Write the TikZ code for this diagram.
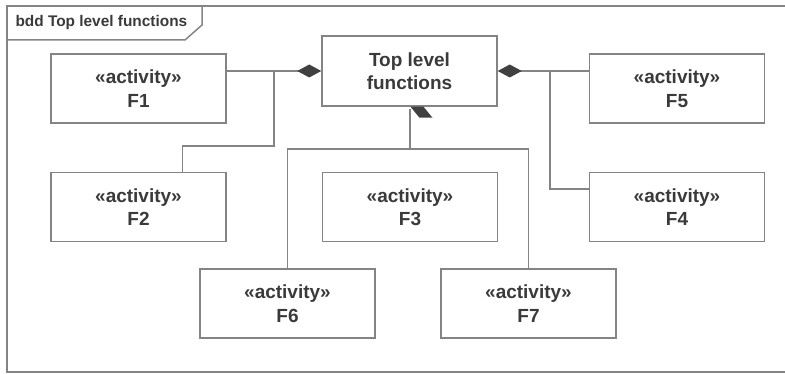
\documentclass[tikz,border=0pt]{standalone}
\usepackage{fontspec}
\setmainfont{Liberation Sans}
\usetikzlibrary{calc, arrows.meta, positioning}

\definecolor{linegray}{RGB}{132,132,132}
\definecolor{textgray}{RGB}{58,58,58}
\definecolor{diagray}{RGB}{64,64,64}

\begin{document}
\begin{tikzpicture}[x=1pt, y=-1pt,
    block/.style={draw=linegray, line width=1.5pt, fill=white, text=textgray,
        minimum width=175pt, minimum height=69pt, align=center,
        font=\fontsize{19}{23.5}\selectfont\bfseries},
    link/.style={draw=linegray, line width=1.5pt},
    comp/.style={link, -{Diamond[length=24pt, width=13pt, color=diagray, fill=diagray]}}]

    % =================================================================
    % 1. KHUNG SO DO VA NHAN bdd
    % =================================================================
    \useasboundingbox (0,0) rectangle (785,374);
    \draw[linegray, line width=1.5pt] (790,6) -- (7,6) -- (7,372) -- (790,372);
    \draw[linegray, line width=1.5pt] (7,40) -- (185,40) -- (202,25) -- (202,6);
    \node[anchor=west, text=textgray, font=\fontsize{15.4}{18}\selectfont\bfseries]
        (tab) at (12,23) {bdd Top level functions};

    % =================================================================
    % 2. CAC KHOI CHUC NANG
    % =================================================================
    \node[block, minimum height=70pt] (top) at (409.5,71) {Top level\\functions};
    \node[block] (f1) at (138.5,88.5) {«activity»\\F1};
    \node[block] (f2) at (138.5,207) {«activity»\\F2};
    \node[block] (f3) at (410,207) {«activity»\\F3};
    \node[block] (f4) at (677,207) {«activity»\\F4};
    \node[block] (f5) at (677,88.5) {«activity»\\F5};
    \node[block] (f6) at (287.5,303.5) {«activity»\\F6};
    \node[block] (f7) at (528.5,303.5) {«activity»\\F7};

    % =================================================================
    % 3. DUONG NOI BEN TRAI VA BEN PHAI
    % =================================================================
    \draw[comp] (f1.east |- top.west) -- (top.west);
    \coordinate (f2top) at ($(f2.north west)!0.75!(f2.north east)$);
    \coordinate (jl) at (274,146);
    \draw[link] (f2top) |- (jl) -- (jl |- top.west);

    \draw[comp] (f5.west |- top.east) -- (top.east);
    \coordinate (f4left) at ($(f4.west)+(0,-18)$);
    \coordinate (jr) at (550,71);
    \draw[link] (f4left) -| (jr);

    % =================================================================
    % 4. DUONG NOI PHIA DUOI (F6, F7)
    % =================================================================
    \coordinate (jb) at (410,149);
    \coordinate (stem) at (410,109);
    \draw[link] (f6.north) |- (jb) -- (stem);
    \draw[link] (f7.north) |- (jb);
    \fill[diagray] ($(top.south)+(1,0)$) -- ++(13,0) -- ++(9,11) -- ++(-13,0) -- cycle;

\end{tikzpicture}
\end{document}
